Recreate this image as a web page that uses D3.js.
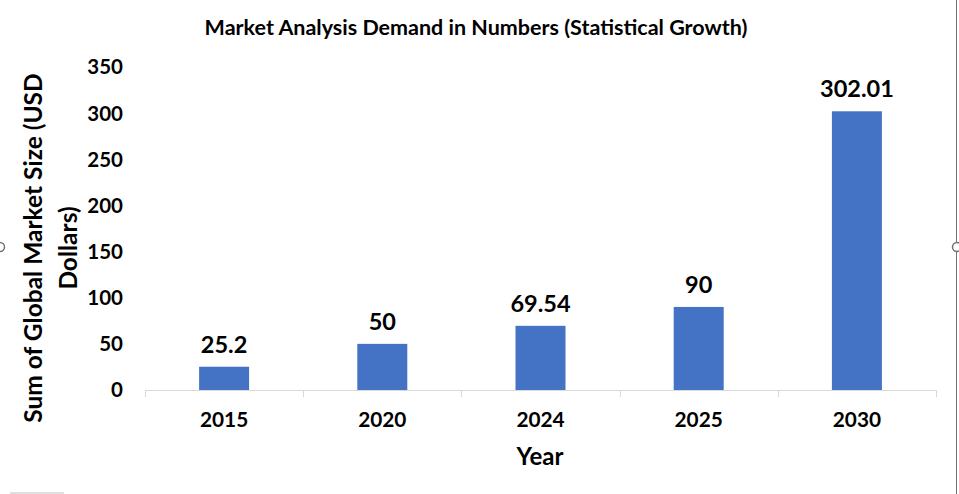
<!DOCTYPE html>
<html>
<head>
<meta charset="utf-8">
<script src="https://cdn.jsdelivr.net/npm/d3@7"></script>
<style>
  body { margin: 0; background: #fff; }
  svg { display: block; font-family: Lato, "Open Sans", sans-serif; }
</style>
</head>
<body>
<svg id="chart" width="959" height="494"></svg>
<script>
var years = ["2015", "2020", "2024", "2025", "2030"];
var marketSize = [25.2, 50, 69.54, 90, 302.01];
var valueLabels = ["25.2", "50", "69.54", "90", "302.01"];
var yTicks = [0, 50, 100, 150, 200, 250, 300, 350];

var svg = d3.select("#chart"),
    plotLeft = 145, plotRight = 936, plotBottom = 390, plotTop = 67;

// category cells (tick boundaries) and bars inside them
var cell = d3.scaleBand().domain(years).range([plotLeft, plotRight]).padding(0);
var x = d3.scaleBand().domain(years).range([plotLeft, plotRight])
    .paddingInner(0.684).paddingOuter(0.342);
var y = d3.scaleLinear().domain([0, 350]).range([plotBottom, plotTop]);

svg.append("text")
    .attr("x", 476).attr("y", 35)
    .attr("text-anchor", "middle")
    .style("font-size", "21.5px").style("font-weight", "bold")
    .text("Market Analysis Demand in Numbers (Statistical Growth)");

// y tick labels, no axis line
svg.append("g").selectAll("text")
    .data(yTicks)
    .enter().append("text")
    .attr("x", 123)
    .attr("y", function(d) { return y(d); })
    .attr("dy", "0.36em")
    .attr("text-anchor", "end")
    .style("font-size", "20.5px").style("font-weight", "bold")
    .text(function(d) { return d; });

// bars
svg.append("g").selectAll("rect")
    .data(marketSize)
    .enter().append("rect")
    .attr("x", function(d, i) { return x(years[i]); })
    .attr("width", x.bandwidth())
    .attr("y", function(d) { return y(d); })
    .attr("height", function(d) { return plotBottom - y(d); })
    .style("fill", "#4472c4");

// value labels
svg.append("g").selectAll("text")
    .data(marketSize)
    .enter().append("text")
    .attr("x", function(d, i) { return x(years[i]) + x.bandwidth() / 2; })
    .attr("y", function(d) { return y(d) - 14; })
    .attr("text-anchor", "middle")
    .style("font-size", "23.5px").style("font-weight", "bold")
    .text(function(d, i) { return valueLabels[i]; });

// x axis
var xAxis = svg.append("g");
xAxis.append("line")
    .attr("x1", plotLeft).attr("x2", plotRight)
    .attr("y1", plotBottom + 0.5).attr("y2", plotBottom + 0.5)
    .style("stroke", "#d9d9d9");
xAxis.selectAll(".tick")
    .data(years.concat(["end"]))
    .enter().append("line")
    .attr("x1", function(d, i) { return Math.round(plotLeft + i * cell.step()) + 0.5; })
    .attr("x2", function(d, i) { return Math.round(plotLeft + i * cell.step()) + 0.5; })
    .attr("y1", plotBottom).attr("y2", plotBottom + 7)
    .style("stroke", "#d9d9d9");
xAxis.selectAll("text")
    .data(years)
    .enter().append("text")
    .attr("x", function(d) { return cell(d) + cell.bandwidth() / 2; })
    .attr("y", 427)
    .attr("text-anchor", "middle")
    .style("font-size", "20.8px").style("font-weight", "bold")
    .text(function(d) { return d; });

svg.append("text")
    .attr("x", 540).attr("y", 465)
    .attr("text-anchor", "middle")
    .style("font-size", "24px").style("font-weight", "bold")
    .text("Year");

// y axis title, two lines
var yt = svg.append("text")
    .attr("transform", "translate(0,248) rotate(-90)")
    .attr("text-anchor", "middle")
    .style("font-size", "24.5px").style("font-weight", "bold");
yt.append("tspan").attr("x", 0).attr("y", 42).text("Sum of Global Market Size (USD");
yt.append("tspan").attr("x", 0).attr("y", 77).text("Dollars)");

// chart frame handles at edges
svg.append("line").attr("x1", 956.5).attr("x2", 956.5).attr("y1", 0).attr("y2", 494)
    .style("stroke", "#737373");
svg.append("circle").attr("cx", 0).attr("cy", 247).attr("r", 4.5)
    .style("fill", "#fff").style("stroke", "#737373").style("stroke-width", 1.5);
svg.append("circle").attr("cx", 957).attr("cy", 247).attr("r", 4.5)
    .style("fill", "#fff").style("stroke", "#737373").style("stroke-width", 1.5);
svg.append("rect").attr("x", 10).attr("y", 492).attr("width", 54).attr("height", 2)
    .style("fill", "#e0e0e0");
</script>
</body>
</html>
